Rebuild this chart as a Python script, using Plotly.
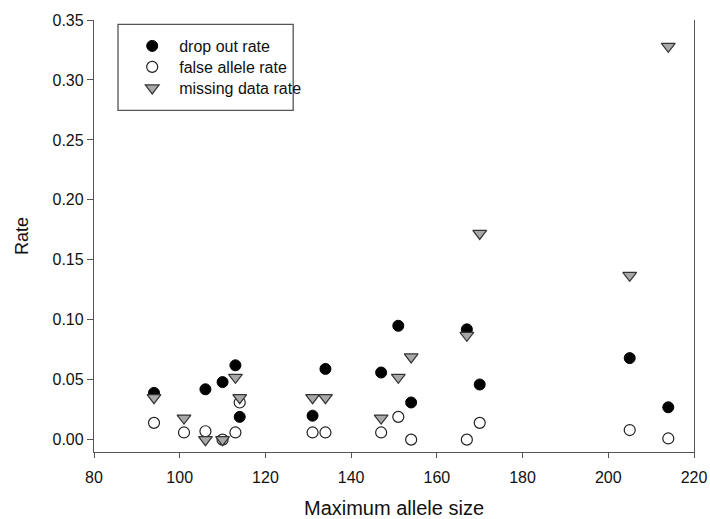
import plotly.graph_objects as go

# Maximum allele size per locus
allele_size = [94, 101, 106, 110, 113, 114, 131, 134, 147, 151, 154, 167, 170, 205, 214]

# Genotyping error rates per locus
drop_out_rate = [0.039, None, 0.042, 0.048, 0.062, 0.019, 0.020, 0.059, 0.056, 0.095,
                 0.031, 0.092, 0.046, 0.068, 0.027]
false_allele_rate = [0.014, 0.006, 0.007, 0.000, 0.006, 0.031, 0.006, 0.006, 0.006, 0.019,
                     0.000, 0.000, 0.014, 0.008, 0.001]
missing_data_rate = [0.035, 0.018, 0.000, 0.000, 0.052, 0.035, 0.035, 0.035, 0.018, 0.052,
                     0.069, 0.087, 0.172, 0.137, 0.328]

x_ticks = [80, 100, 120, 140, 160, 180, 200, 220]
y_ticks = [0.00, 0.05, 0.10, 0.15, 0.20, 0.25, 0.30, 0.35]

FONT = "Liberation Sans, Arial, sans-serif"
AXIS_COLOR = "#555555"

fig = go.Figure()

fig.add_trace(go.Scatter(
    x=allele_size, y=drop_out_rate, mode="markers", name="drop out rate",
    legend="legend",
    marker=dict(symbol="circle", size=11, color="black",
                line=dict(color="black", width=1)),
))
fig.add_trace(go.Scatter(
    x=allele_size, y=false_allele_rate, mode="markers", name="false allele rate",
    legend="legend2",
    marker=dict(symbol="circle", size=11, color="white",
                line=dict(color="#222222", width=1.2)),
))
fig.add_trace(go.Scatter(
    x=allele_size, y=missing_data_rate, mode="markers", name="missing data rate",
    legend="legend3",
    marker=dict(symbol="triangle-down", size=12, color="#a8a8a8",
                line=dict(color="#333333", width=1.2)),
))

# one single-entry legend per series so the rows sit close together
legend_style = dict(
    x=0.052, xanchor="left", yanchor="middle",
    bgcolor="rgba(0,0,0,0)", borderwidth=0,
    itemwidth=44, font=dict(size=16, color="#111111"),
)

fig.update_layout(
    width=710, height=519,
    margin=dict(l=94, r=16, t=20, b=67),
    paper_bgcolor="white", plot_bgcolor="white",
    font=dict(family=FONT, size=16, color="#111111"),
    showlegend=True,
    legend=dict(y=0.9398, **legend_style),
    legend2=dict(y=0.8912, **legend_style),
    legend3=dict(y=0.8426, **legend_style),
    shapes=[dict(
        type="rect", xref="paper", yref="paper",
        x0=0.04, x1=0.332, y0=0.791, y1=0.990,
        line=dict(color=AXIS_COLOR, width=1.3), fillcolor="rgba(0,0,0,0)",
    )],
)

fig.update_xaxes(
    range=[80, 220], tickvals=x_ticks, ticktext=[str(v) for v in x_ticks],
    showline=True, linecolor=AXIS_COLOR, linewidth=1.3, mirror=False,
    ticks="outside", ticklen=5, tickwidth=1.2, tickcolor=AXIS_COLOR,
    ticklabelstandoff=6, automargin=False,
    showgrid=False, zeroline=False,
    tickfont=dict(size=16),
    title=dict(text="Maximum allele size", font=dict(size=20), standoff=24),
)
fig.update_yaxes(
    range=[-0.0103, 0.35], tickvals=y_ticks, ticktext=[f"{v:.2f}" for v in y_ticks],
    showline=True, linecolor=AXIS_COLOR, linewidth=1.3, mirror=True,
    ticks="outside", ticklen=6, tickwidth=1.2, tickcolor=AXIS_COLOR,
    automargin=False,
    showgrid=False, zeroline=False,
    tickfont=dict(size=16),
    title=dict(text="Rate", font=dict(size=18), standoff=19),
)

fig.write_html("out.html")
